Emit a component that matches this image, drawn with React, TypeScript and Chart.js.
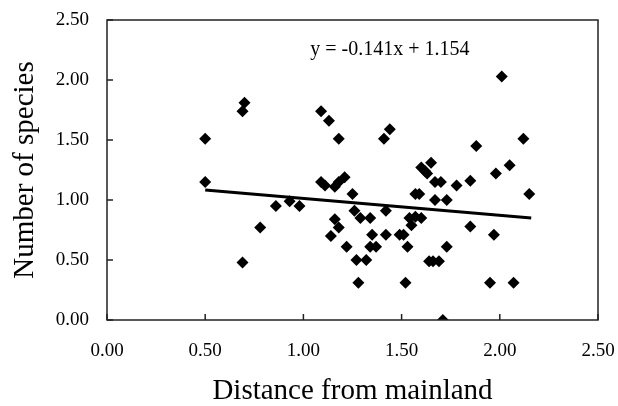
import React, { useEffect, useRef } from "react";
import { Chart, registerables } from "chart.js";

Chart.register(...registerables);

const xValues = [
  0.5, 0.5, 0.7, 0.69, 0.69, 0.78, 0.86, 0.93, 0.98,
  1.09, 1.13, 1.18, 1.09, 1.11, 1.16, 1.18, 1.21,
  1.16, 1.18, 1.14, 1.22, 1.25, 1.26, 1.29, 1.34,
  1.27, 1.32, 1.28, 1.35, 1.34, 1.37,
  1.41, 1.44, 1.42, 1.42, 1.49, 1.51, 1.53, 1.52,
  1.54, 1.57, 1.6, 1.55, 1.57, 1.59,
  1.6, 1.62, 1.63, 1.65, 1.67, 1.67, 1.7,
  1.64, 1.66, 1.69, 1.71, 1.73, 1.73, 1.78,
  1.85, 1.85, 1.88, 1.95, 1.97, 1.98, 2.01, 2.05, 2.07, 2.12, 2.15,
];
const yValues = [
  1.51, 1.15, 1.81, 1.74, 0.48, 0.77, 0.95, 0.99, 0.95,
  1.74, 1.66, 1.51, 1.15, 1.12, 1.11, 1.15, 1.19,
  0.84, 0.77, 0.7, 0.61, 1.05, 0.91, 0.85, 0.85,
  0.5, 0.5, 0.31, 0.71, 0.61, 0.61,
  1.51, 1.59, 0.91, 0.71, 0.71, 0.71, 0.61, 0.31,
  0.85, 0.86, 0.85, 0.79, 1.05, 1.05,
  1.27, 1.24, 1.22, 1.31, 1.0, 1.15, 1.15,
  0.49, 0.49, 0.49, 0.0, 1.0, 0.61, 1.12,
  1.16, 0.78, 1.45, 0.31, 0.71, 1.22, 2.03, 1.29, 0.31, 1.51, 1.05,
];
const trendSlope = -0.141;
const trendIntercept = 1.154;
const trendRange = [0.5, 2.16];
const tickValues = [0, 0.5, 1, 1.5, 2, 2.5];
const equationText = "y = -0.141x + 1.154";
const equationPos = [1.44, 2.25];
const xTitle = "Distance from mainland";
const yTitle = "Number of species";

const SERIF = "'Liberation Serif', 'Times New Roman', serif";

export default function App() {
  const ref = useRef<HTMLCanvasElement | null>(null);
  useEffect(() => {
    document.body.style.margin = "0";
    const canvas = ref.current!;
    const points = xValues.map((x, i) => ({ x, y: yValues[i] }));
    const trend = trendRange.map((x) => ({ x, y: trendSlope * x + trendIntercept }));

    const framePlugin = {
      id: "frame",
      afterDatasetsDraw(chart: any) {
        const { ctx, chartArea } = chart;
        const xs = chart.scales.x;
        const ys = chart.scales.y;
        ctx.save();
        ctx.strokeStyle = "#222";
        ctx.lineWidth = 1.5;
        ctx.strokeRect(chartArea.left, chartArea.top, chartArea.right - chartArea.left, chartArea.bottom - chartArea.top);
        ctx.beginPath();
        tickValues.forEach((v) => {
          const px = xs.getPixelForValue(v);
          ctx.moveTo(px, chartArea.bottom);
          ctx.lineTo(px, chartArea.bottom - 6);
          const py = ys.getPixelForValue(v);
          ctx.moveTo(chartArea.left, py);
          ctx.lineTo(chartArea.left + 6, py);
        });
        ctx.stroke();
        ctx.fillStyle = "#000";
        ctx.font = "20px " + SERIF;
        ctx.textAlign = "center";
        ctx.textBaseline = "middle";
        ctx.fillText(equationText, xs.getPixelForValue(equationPos[0]), ys.getPixelForValue(equationPos[1]));
        ctx.restore();
      },
    };

    const chart = new Chart(canvas, {
      type: "scatter",
      data: {
        datasets: [
          {
            data: points,
            pointStyle: "rectRot",
            pointRadius: 6,
            backgroundColor: "#000",
            borderColor: "#000",
            borderWidth: 0,
          } as any,
          {
            type: "line",
            data: trend,
            borderColor: "#000",
            borderWidth: 3,
            pointRadius: 0,
            fill: false,
          } as any,
        ],
      },
      options: {
        animation: false,
        responsive: false,
        maintainAspectRatio: false,
        layout: { padding: { top: 20, right: 20, left: 0, bottom: 0 } },
        plugins: { legend: { display: false }, tooltip: { enabled: false } },
        scales: {
          x: {
            type: "linear",
            min: 0,
            max: 2.5,
            afterBuildTicks: (s: any) => {
              s.ticks = tickValues.map((v) => ({ value: v }));
            },
            afterFit: (s: any) => {
              s.height = 86;
              s.paddingLeft = 0;
              s.paddingRight = 0;
            },
            ticks: {
              callback: (v: any) => Number(v).toFixed(2),
              font: { family: SERIF, size: 19 },
              color: "#000",
              padding: 20,
              maxRotation: 0,
            },
            grid: { display: false, drawTicks: false },
            border: { display: false },
            title: {
              display: true,
              text: xTitle,
              font: { family: SERIF, size: 29, lineHeight: 1 },
              color: "#000",
              padding: 0,
            },
          },
          y: {
            type: "linear",
            min: 0,
            max: 2.5,
            afterBuildTicks: (s: any) => {
              s.ticks = tickValues.map((v) => ({ value: v }));
            },
            afterFit: (s: any) => {
              s.width = 107;
              s.paddingTop = 0;
              s.paddingBottom = 0;
            },
            ticks: {
              callback: (v: any) => Number(v).toFixed(2),
              font: { family: SERIF, size: 19 },
              color: "#000",
              padding: 18,
            },
            grid: { display: false, drawTicks: false },
            border: { display: false },
            title: {
              display: true,
              text: yTitle,
              font: { family: SERIF, size: 29, lineHeight: 1 },
              color: "#000",
              padding: { top: 11, bottom: 0 },
            },
          },
        },
      },
      plugins: [framePlugin],
    });
    return () => chart.destroy();
  }, []);
  return <canvas ref={ref} width={618} height={406} style={{ display: "block" }} />;
}
